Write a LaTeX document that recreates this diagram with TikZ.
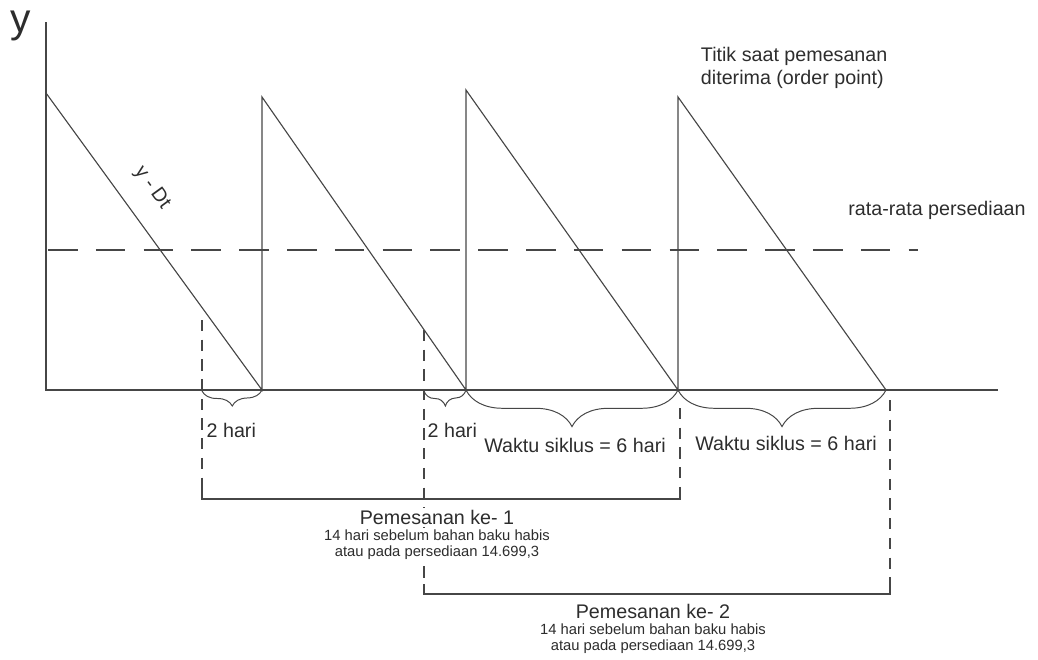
\documentclass[tikz,border=0pt]{standalone}
\usepackage{fontspec}
\setmainfont{Liberation Sans}
\usetikzlibrary{decorations.pathreplacing, positioning}
\definecolor{linegray}{RGB}{70,70,70}
\definecolor{textgray}{RGB}{45,45,45}

\begin{document}
\begin{tikzpicture}[x=0.025cm, y=-0.025cm,
    every node/.style={font=\fontsize{14}{16.5}\selectfont, text=textgray},
    axis/.style={draw=linegray, line width=0.9pt},
    stock/.style={draw=linegray, line width=0.8pt},
    avgline/.style={draw=linegray, line width=0.8pt, dash pattern=on 21pt off 13pt},
    leadline/.style={draw=linegray, line width=0.8pt, dash pattern=on 8pt off 6pt},
    bracket/.style={draw=linegray, line width=0.8pt},
    smallbrace/.style={draw=linegray, line width=0.7pt, decorate, decoration={brace, mirror, amplitude=11pt}},
    bigbrace/.style={draw=linegray, line width=0.7pt, decorate, decoration={brace, mirror, amplitude=26pt}},
    ordertitle/.style={fill=white, inner sep=1pt},
    ordernote/.style={font=\fontsize{10.5}{11.5}\selectfont, align=center, fill=white, inner sep=1pt}
]
\useasboundingbox (0,0) rectangle (1038,659);

% Axes
\coordinate (top) at (46,22);
\coordinate (origin) at (46,390);
\coordinate (right) at (998,390);
\draw[axis] (top) -- (origin) -- (right);
\node (ylabel) at (21,26) {\fontsize{29}{30}\selectfont y};

% Saw-tooth stock level (peaks and empty points)
\coordinate (peak1) at (46,93);
\coordinate (peak2) at (262,97);
\coordinate (peak3) at (466,90);
\coordinate (peak4) at (678,97);
\coordinate (empty1) at (262,390);
\coordinate (empty2) at (466,390);
\coordinate (empty3) at (678,390);
\coordinate (empty4) at (886,390);
\draw[stock] (peak1) -- (empty1) -- (peak2) -- (empty2) -- (peak3) -- (empty3) -- (peak4) -- (empty4);
\node[rotate=-54] (ydt) at (152,188) {y - Dt};

% Average stock line
\coordinate (avgstart) at (48,250);
\coordinate (avgend) at (918,250);
\draw[avgline] (avgstart) -- (avgend);
\node (avglabel) at (937,210) {rata-rata persediaan};
\node[align=left, anchor=west] (orderpoint) at (696,68) {Titik saat pemesanan\\diterima (order point)};

% Lead lines down to the order brackets
\coordinate (lead1) at (202,320);
\coordinate (lead2) at (424,330);
\coordinate (lead3) at (680,408);
\coordinate (lead4) at (890,400);
\coordinate (foot1) at (202,499);
\coordinate (foot2) at (424,594);
\coordinate (foot3) at (680,499);
\coordinate (foot4) at (890,594);
\draw[leadline] (lead1) -- (foot1);
\draw[leadline] (lead2) -- (foot2);
\draw[leadline] (lead3) -- (foot3);
\draw[leadline] (lead4) -- (foot4);

% Braces under the time axis
\draw[smallbrace] (202,391) -- (empty1);
\draw[smallbrace] (424,391) -- (empty2);
\draw[bigbrace] (empty2) -- (empty3);
\draw[bigbrace] (empty3) -- (empty4);
\node[anchor=west, inner sep=1pt] (lead1days) at (205,430) {2 hari};
\node[anchor=west, inner sep=1pt] (lead2days) at (426,430) {2 hari};
\node (cycle1) at (575,445) {Waktu siklus = 6 hari};
\node (cycle2) at (786,443) {Waktu siklus = 6 hari};

% Order brackets
\draw[bracket] ([yshift=7pt]foot1) -- (foot1) -- (foot3) -- ([yshift=7pt]foot3);
\draw[bracket] ([yshift=7pt]foot2) -- (foot2) -- (foot4) -- ([yshift=7pt]foot4);

\node[ordertitle] (order1) at (437,517) {Pemesanan ke- 1};
\node[ordernote, below=1.5pt of order1] (order1note) {14 hari sebelum bahan baku habis\\atau pada persediaan 14.699,3};
\node[ordertitle] (order2) at (653,611) {Pemesanan ke- 2};
\node[ordernote, below=1.5pt of order2] (order2note) {14 hari sebelum bahan baku habis\\atau pada persediaan 14.699,3};

\end{tikzpicture}
\end{document}
